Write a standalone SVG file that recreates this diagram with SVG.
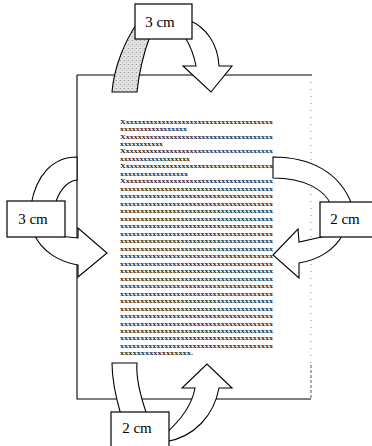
<svg xmlns="http://www.w3.org/2000/svg" width="372" height="446" viewBox="0 0 372 446">
<style>
.ln{stroke:#000;stroke-width:1.1;fill:none}
.ar{fill:#fff;stroke:#000;stroke-width:1.1;stroke-linejoin:miter}
.bx{fill:#fff;stroke:#000;stroke-width:1.2}
.lb{font-family:"Liberation Serif","Times New Roman",serif;font-size:15px;fill:#000;text-anchor:middle}
.t{font-family:"Liberation Serif","Times New Roman",serif;font-size:6.5px;font-weight:bold;fill:#222}
</style>
<defs>
<pattern id="stip" width="4" height="4" patternUnits="userSpaceOnUse">
<rect width="4" height="4" fill="#e4e4e4"/>
<rect x="0" y="0" width="1" height="1" fill="#9a9a9a"/>
<rect x="2" y="2" width="1" height="1" fill="#b0b0b0"/>
<rect x="3" y="0" width="1" height="1" fill="#c8c8c8"/>
</pattern>
</defs>
<rect width="372" height="446" fill="#fff"/>
<g id="page">
<path class="ln" d="M77,75 L312,75 M77,75 L77,399 L311,399"/>
<path d="M311,75 L311,365" stroke="#888" stroke-width="1" stroke-dasharray="1,6" fill="none"/>
<path d="M311,365 L311,399" stroke="#555" stroke-width="1" stroke-dasharray="3,2" fill="none"/>
</g>
<g id="text-block">
<text class="t" x="120" y="123.5" textLength="153" lengthAdjust="spacingAndGlyphs">Xxxxxxxxxxxxxxxxxxxxxxxxxxxxxxxxxxxxxx</text>
<text class="t" x="120" y="131" textLength="67" lengthAdjust="spacingAndGlyphs">xxxxxxxxxxxxxxxxx</text>
<text class="t" x="120" y="138.5" textLength="153" lengthAdjust="spacingAndGlyphs">Xxxxxxxxxxxxxxxxxxxxxxxxxxxxxxxxxxxxxx</text>
<text class="t" x="120" y="145.9" textLength="43" lengthAdjust="spacingAndGlyphs">xxxxxxxxxxx</text>
<text class="t" x="120" y="153.4" textLength="153" lengthAdjust="spacingAndGlyphs">Xxxxxxxxxxxxxxxxxxxxxxxxxxxxxxxxxxxxxx</text>
<text class="t" x="120" y="160.9" textLength="70" lengthAdjust="spacingAndGlyphs">xxxxxxxxxxxxxxxxxx</text>
<text class="t" x="120" y="168.4" textLength="153" lengthAdjust="spacingAndGlyphs">Xxxxxxxxxxxxxxxxxxxxxxxxxxxxxxxxxxxxxx</text>
<text class="t" x="120" y="175.9" textLength="68" lengthAdjust="spacingAndGlyphs">xxxxxxxxxxxxxxxxx</text>
<text class="t" x="120" y="183.3" textLength="153" lengthAdjust="spacingAndGlyphs">Xxxxxxxxxxxxxxxxxxxxxxxxxxxxxxxxxxxxxx</text>
<text class="t" x="120" y="190.8" textLength="153" lengthAdjust="spacingAndGlyphs">xxxxxxxxxxxxxxxxxxxxxxxxxxxxxxxxxxxxxx</text>
<text class="t" x="120" y="198.3" textLength="153" lengthAdjust="spacingAndGlyphs">xxxxxxxxxxxxxxxxxxxxxxxxxxxxxxxxxxxxxx</text>
<text class="t" x="120" y="205.8" textLength="153" lengthAdjust="spacingAndGlyphs">xxxxxxxxxxxxxxxxxxxxxxxxxxxxxxxxxxxxxx</text>
<text class="t" x="120" y="213.3" textLength="153" lengthAdjust="spacingAndGlyphs">xxxxxxxxxxxxxxxxxxxxxxxxxxxxxxxxxxxxxx</text>
<text class="t" x="120" y="220.7" textLength="153" lengthAdjust="spacingAndGlyphs">xxxxxxxxxxxxxxxxxxxxxxxxxxxxxxxxxxxxxx</text>
<text class="t" x="120" y="228.2" textLength="153" lengthAdjust="spacingAndGlyphs">xxxxxxxxxxxxxxxxxxxxxxxxxxxxxxxxxxxxxx</text>
<text class="t" x="120" y="235.7" textLength="153" lengthAdjust="spacingAndGlyphs">xxxxxxxxxxxxxxxxxxxxxxxxxxxxxxxxxxxxxx</text>
<text class="t" x="120" y="243.2" textLength="153" lengthAdjust="spacingAndGlyphs">xxxxxxxxxxxxxxxxxxxxxxxxxxxxxxxxxxxxxx</text>
<text class="t" x="120" y="250.7" textLength="153" lengthAdjust="spacingAndGlyphs">xxxxxxxxxxxxxxxxxxxxxxxxxxxxxxxxxxxxxx</text>
<text class="t" x="120" y="258.1" textLength="153" lengthAdjust="spacingAndGlyphs">xxxxxxxxxxxxxxxxxxxxxxxxxxxxxxxxxxxxxx</text>
<text class="t" x="120" y="265.6" textLength="153" lengthAdjust="spacingAndGlyphs">xxxxxxxxxxxxxxxxxxxxxxxxxxxxxxxxxxxxxx</text>
<text class="t" x="120" y="273.1" textLength="153" lengthAdjust="spacingAndGlyphs">xxxxxxxxxxxxxxxxxxxxxxxxxxxxxxxxxxxxxx</text>
<text class="t" x="120" y="280.6" textLength="153" lengthAdjust="spacingAndGlyphs">xxxxxxxxxxxxxxxxxxxxxxxxxxxxxxxxxxxxxx</text>
<text class="t" x="120" y="288.1" textLength="153" lengthAdjust="spacingAndGlyphs">xxxxxxxxxxxxxxxxxxxxxxxxxxxxxxxxxxxxxx</text>
<text class="t" x="120" y="295.5" textLength="153" lengthAdjust="spacingAndGlyphs">xxxxxxxxxxxxxxxxxxxxxxxxxxxxxxxxxxxxxx</text>
<text class="t" x="120" y="303" textLength="153" lengthAdjust="spacingAndGlyphs">xxxxxxxxxxxxxxxxxxxxxxxxxxxxxxxxxxxxxx</text>
<text class="t" x="120" y="310.5" textLength="153" lengthAdjust="spacingAndGlyphs">xxxxxxxxxxxxxxxxxxxxxxxxxxxxxxxxxxxxxx</text>
<text class="t" x="120" y="318" textLength="153" lengthAdjust="spacingAndGlyphs">xxxxxxxxxxxxxxxxxxxxxxxxxxxxxxxxxxxxxx</text>
<text class="t" x="120" y="325.5" textLength="153" lengthAdjust="spacingAndGlyphs">xxxxxxxxxxxxxxxxxxxxxxxxxxxxxxxxxxxxxx</text>
<text class="t" x="120" y="332.9" textLength="153" lengthAdjust="spacingAndGlyphs">xxxxxxxxxxxxxxxxxxxxxxxxxxxxxxxxxxxxxx</text>
<text class="t" x="120" y="340.4" textLength="153" lengthAdjust="spacingAndGlyphs">xxxxxxxxxxxxxxxxxxxxxxxxxxxxxxxxxxxxxx</text>
<text class="t" x="120" y="347.9" textLength="153" lengthAdjust="spacingAndGlyphs">xxxxxxxxxxxxxxxxxxxxxxxxxxxxxxxxxxxxxx</text>
<text class="t" x="120" y="355.4" textLength="73" lengthAdjust="spacingAndGlyphs">xxxxxxxxxxxxxxxxx.</text>
</g>
<g id="margin-top">
<path d="M138,22 C124,42 114,68 112,92 L137,92 C139,72 143,55 150,36 Z" fill="url(#stip)" stroke="#000" stroke-width="1.1"/>
<path class="ar" d="M188,20 C207,27 218,45 219,66 L232,66 L211,92 L183,66 L196,66 C194,55 191,47 185,37 Z"/>
<rect class="bx" x="135" y="4" width="57" height="35"/>
<text class="lb" x="160" y="27">3 cm</text>
</g>
<g id="margin-left">
<path class="ar" d="M77,157 C52,157 36,176 31,205 L55,205 C58,193 66,181 77,180 Z"/>
<path class="ar" d="M58,236 L78,238 L78,228 L107,253 L78,277 L78,265 C60,262 42,252 34,234 Z"/>
<rect class="bx" x="7" y="201" width="58" height="36"/>
<text class="lb" x="33" y="224">3 cm</text>
</g>
<g id="margin-right">
<path class="ar" d="M273,157 C310,157 340,172 352,205 L331,205 C325,190 305,178 273,178 Z"/>
<path class="ar" d="M326,236 L299,242 L298,229 L273,255 L299,278 L299,263 C318,260 335,250 343,234 Z"/>
<rect class="bx" x="320" y="202" width="60" height="35"/>
<text class="lb" x="345" y="224">2 cm</text>
</g>
<g id="margin-bottom">
<path class="ar" d="M112,363 L137,363 C136,375 140,395 147,415 L121,415 C116,398 112,380 112,363 Z"/>
<path class="ar" d="M165,434 C180,421 192,405 195,388 L182,388 L207,364 L232,388 L219,388 C214,415 195,437 165,442 Z"/>
<rect class="bx" x="111" y="412" width="58" height="40"/>
<text class="lb" x="137" y="433">2 cm</text>
</g>
</svg>
